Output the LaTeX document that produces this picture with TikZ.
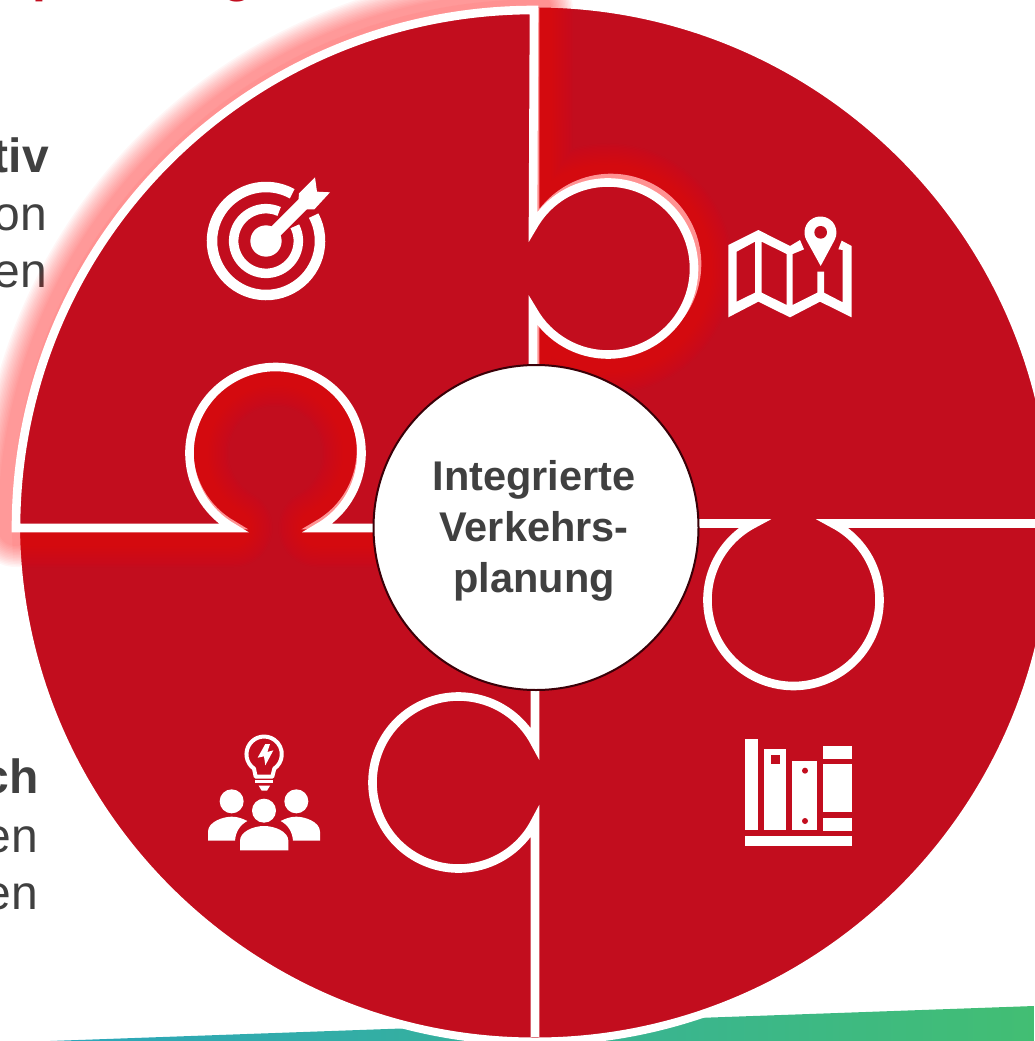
\documentclass[tikz,border=0pt]{standalone}
\usepackage{fontspec}
\setmainfont{Liberation Sans}
\definecolor{pieceRed}{HTML}{C20D1E}
\definecolor{glowRed}{HTML}{FF0A0A}
\definecolor{txtGrey}{HTML}{404040}
\definecolor{stripL}{HTML}{2CA6BC}
\definecolor{stripR}{HTML}{42BE73}
\definecolor{rimDark}{HTML}{3A0008}
\tikzset{
  cutline/.style={draw=white,line width=8.6pt,miter limit=10},
  side/.style={inner sep=0pt,anchor=base east,text=txtGrey,font=\fontsize{48}{48}\selectfont},
  sidebold/.style={side,font=\fontsize{48}{48}\selectfont\bfseries},
  heading/.style={inner sep=0pt,anchor=base west,text=pieceRed,font=\fontsize{50}{50}\selectfont\bfseries},
  icon/.style={fill=white,draw=none},
  iconhole/.style={fill=pieceRed,draw=none}
}
\def\TLpath{(533,528) -- (317.58,528) arc[start angle=60.7,end angle=-240.7,radius=86] -- (16,528)
  arc[start angle=180,end angle=270,radius=518] -- (533,226.4)
  arc[start angle=-150.7,end angle=150.7,radius=86] -- cycle}
\begin{document}
\begin{tikzpicture}[x=1pt,y=1pt,yscale=-1]
\useasboundingbox (0,0) rectangle (1034,1041);
% clipped text at the left and the top
\node[heading] (hp) at (32,-8.5) {p};
\node[heading] (hg) at (222,-8.5) {g};
\node[sidebold] (t1) at (49,172) {tiv};
\node[side] (t2) at (47,230) {on};
\node[side] (t3) at (47,287) {en};
\node[sidebold] (t4) at (39,793) {ch};
\node[side] (t5) at (38,852) {en};
\node[side] (t6) at (38,909) {en};
% strip
\shade[left color=stripL,right color=stripR] (50,1041) -- (1034,1006) -- (1034,1041) -- cycle;
% disc with the cut lines of the three plain pieces
\filldraw[fill=pieceRed,draw=white,line width=8pt] (535,522.5) circle[radius=519];
\draw[cutline] (1060,523.5) -- (832.8,523.5) arc[start angle=-62.8,end angle=242.8,radius=86] -- (600,523.5);
\draw[cutline] (535,680) -- (535,743.2) arc[start angle=-27.2,end angle=-332.8,radius=86] -- (535,1037);
\draw[cutline] (540,525) -- (317.08,525) arc[start angle=60.7,end angle=-240.7,radius=86] -- (18,525);
\draw[cutline] (535,400) -- (535,304.25) arc[start angle=152.1,end angle=-152.1,radius=86] -- (535,8);
% glow of the upper left piece
\foreach \w in {78,75,72,69,66,63,60,57,54,51,48,45,42,39,36}{
  \draw[glowRed,opacity=0.036,line width=\w pt,line join=round] \TLpath;
}
% upper left piece
\filldraw[fill=pieceRed,cutline] \TLpath;
% centre
\node[circle,draw=rimDark,fill=white,line width=2pt,minimum size=325pt,inner sep=0pt] (hub) at (536,527.5) {};
\node[align=center,inner sep=0pt,text=txtGrey,font=\fontsize{41.5}{51}\selectfont\bfseries] (hubtext) at (534,531) {Integrierte\\Verkehrs-\\planung};
% target icon
\begin{scope}[shift={(180,160)},scale=1/3]
  \draw[white,line width=10.5pt] (258,243) ++(-28:162) arc[start angle=-28,end angle=299,radius=162];
  \draw[white,line width=9.5pt] (258,243) ++(-27:97) arc[start angle=-27,end angle=294,radius=97];
  \fill[white] (258,243) circle[radius=47];
  \draw[white,line width=13pt] (258,243) -- (378,123);
  \fill[icon] (357,100) -- (405,52) -- (411,95) -- (450,97) -- (403,148) -- (378,148) -- (355,127) -- cycle;
\end{scope}
% map icon
\begin{scope}[shift={(700,190)},scale=1/3]
  \fill[icon,even odd rule] (85,165) -- (175,120) -- (270,168) -- (300,150) -- (312,178) -- (278,192) -- (278,345) -- (352,308) -- (352,245) -- (372,245) -- (372,308) -- (428,337) -- (428,180) -- (415,178) -- (425,152) -- (455,168) -- (455,382) -- (360,335) -- (270,382) -- (175,335) -- (85,382) -- cycle
   (110,185) -- (165,155) -- (165,308) -- (110,335) -- cycle
   (185,155) -- (260,192) -- (260,345) -- (185,308) -- cycle;
  \fill[icon] (362,228) -- (319,150) arc[start angle=152,end angle=388,radius=48] -- cycle;
  \fill[iconhole] (362,127) circle[radius=19];
\end{scope}
% books icon
\begin{scope}[shift={(720,720)},scale=1/3]
  \fill[icon] (75,57) rectangle (114,330);
  \fill[icon] (133,87) rectangle (198,330);
  \fill[iconhole] (152,105) rectangle (180,133);
  \fill[icon] (217,124) rectangle (292,330);
  \fill[iconhole] (255,152) circle[radius=9];
  \fill[iconhole] (255,303) circle[radius=9];
  \fill[icon] (309,78) rectangle (396,117);
  \fill[icon] (309,132) rectangle (396,276);
  \fill[icon] (309,294) rectangle (396,333);
  \fill[icon] (75,348) rectangle (396,378);
\end{scope}
% people icon
\begin{scope}[shift={(190,720)},scale=1/3]
  \draw[white,line width=4pt,line join=round] (197,170) -- (192,146) arc[start angle=125,end angle=415,radius=53] -- (247,170) -- cycle;
  \fill[icon] (196,179) rectangle (248,188);
  \fill[icon] (206,197) -- (240,197) -- (231,212) -- (215,212) -- cycle;
  \fill[icon] (226,72) -- (203,113) -- (222,109) -- (226,136) -- (250,91) -- (232,96) -- (240,72) -- cycle;
  \fill[icon] (125,244) circle[radius=36];
  \fill[icon] (319,244) circle[radius=36];
  \fill[icon] (222,272) circle[radius=36];
  \fill[icon] (54,362) -- (54,335) .. controls (54,305) and (100,290) .. (125,290) .. controls (145,290) and (160,297) .. (172,303) .. controls (150,315) and (137,335) .. (135,362) -- cycle;
  \fill[icon] (390,362) -- (390,335) .. controls (390,305) and (344,290) .. (319,290) .. controls (299,290) and (284,297) .. (272,303) .. controls (294,315) and (307,335) .. (309,362) -- cycle;
  \fill[icon] (150,391) -- (150,362) .. controls (150,335) and (190,318) .. (222,318) .. controls (255,318) and (295,335) .. (295,362) -- (295,391) -- cycle;
\end{scope}
\end{tikzpicture}
\end{document}
